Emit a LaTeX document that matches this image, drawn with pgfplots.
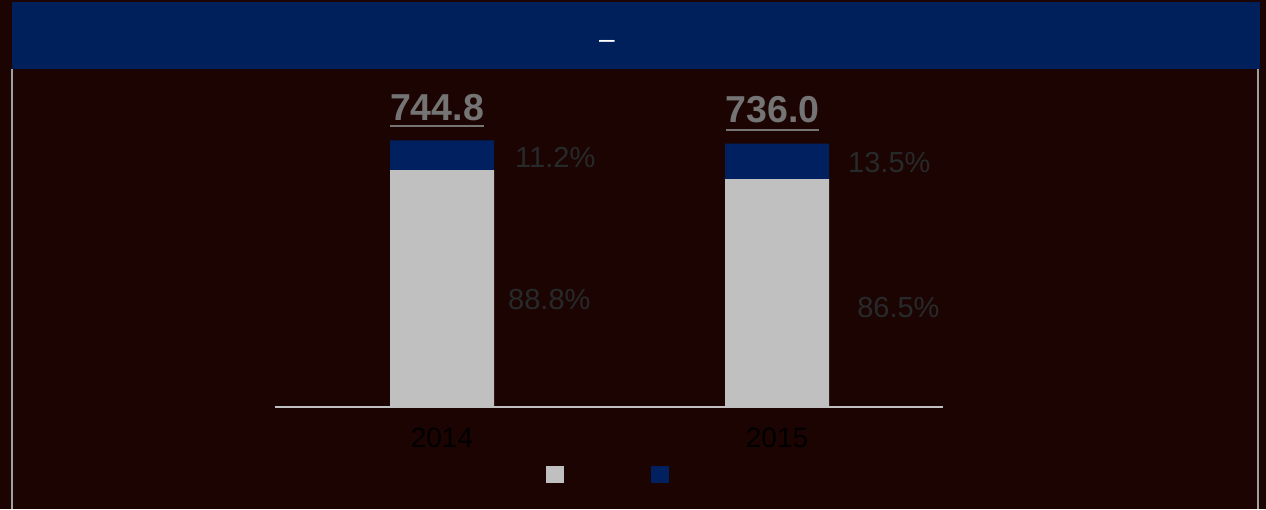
\documentclass[border=0pt]{standalone}
\usepackage{pgfplots}
\pgfplotsset{compat=1.18}
\usepackage{fontspec}
\setmainfont{Liberation Sans}
\definecolor{bg}{HTML}{1C0402}
\definecolor{hdr}{HTML}{00205B}
\definecolor{bargray}{HTML}{C0C0C0}
\definecolor{barblue}{HTML}{002060}
\definecolor{totgray}{HTML}{747474}
\definecolor{pctgray}{HTML}{272A2A}
\definecolor{edge}{HTML}{A0A0A0}
\newcommand\ul[2]{\setbox0\hbox{#2}\rlap{\rule[-#1]{\wd0}{2pt}}\box0}
\begin{document}
\begin{tikzpicture}[x=1pt,y=1pt]
\useasboundingbox (0,0) rectangle (1266,509);
\fill[bg] (0,0) rectangle (1266,509);
\fill[hdr] (12,440) rectangle (1260,507);
\draw[edge, line width=1.5pt] (12,0) -- (12,440);
\draw[edge, line width=1.5pt] (1258,0) -- (1258,440);
\node[text=white, font=\fontsize{28}{30}\selectfont, anchor=base, inner sep=0pt] at (607,460.5) {–};
\begin{axis}[
  at={(275pt,102pt)}, anchor=south west,
  scale only axis, width=668pt, height=327pt,
  xmin=-0.4985, xmax=1.4955, ymin=0, ymax=913.4,
  ybar stacked, bar width=104pt,
  axis x line=bottom, axis y line=none,
  x axis line style={color=bargray, line width=2pt, -},
  xtick=data, xticklabels={2014,2015}, xtick style={draw=none},
  major tick length=0pt,
  xticklabel style={font=\fontsize{28}{30}\selectfont, text=black, anchor=base, yshift=-40pt},
  ytick=\empty,
  legend columns=2,
  legend image code/.code={\fill[#1] (0pt,-8.5pt) rectangle (18pt,8.5pt);},
  legend style={at={(0.5,0)}, anchor=center, xshift=-1.5pt, yshift=-67.5pt, draw=none, fill=none,
    inner sep=0pt, outer sep=0pt, nodes={inner sep=0pt},
    /tikz/every even column/.append style={column sep=86pt}},
  clip=false,
]
\addplot[fill=bargray, draw=none] coordinates {(0,661.4) (1,636.6)};
\addlegendentry{\mbox{}}
\addplot[fill=barblue, draw=none] coordinates {(0,83.4) (1,99.4)};
\addlegendentry{\mbox{}}
\node[font=\bfseries\fontsize{37.5}{40}\selectfont, text=totgray, anchor=base, inner sep=0pt, xshift=-5pt, yshift=20pt] at (axis cs:0,744.8) {\ul{7pt}{744.8}};
\node[font=\bfseries\fontsize{37.5}{40}\selectfont, text=totgray, anchor=base, inner sep=0pt, xshift=-4.5pt, yshift=21pt] at (axis cs:1,736.0) {\ul{8pt}{736.0}};
\node[font=\fontsize{29}{31}\selectfont, text=pctgray, anchor=base west, inner sep=0pt] at (axis cs:0.218,668) {11.2\%};
\node[font=\fontsize{29}{31}\selectfont, text=pctgray, anchor=base west, inner sep=0pt] at (axis cs:0.197,271) {88.8\%};
\node[font=\fontsize{29}{31}\selectfont, text=pctgray, anchor=base west, inner sep=0pt] at (axis cs:1.212,656) {13.5\%};
\node[font=\fontsize{29}{31}\selectfont, text=pctgray, anchor=base west, inner sep=0pt] at (axis cs:1.239,249) {86.5\%};
\end{axis}
\end{tikzpicture}
\end{document}
